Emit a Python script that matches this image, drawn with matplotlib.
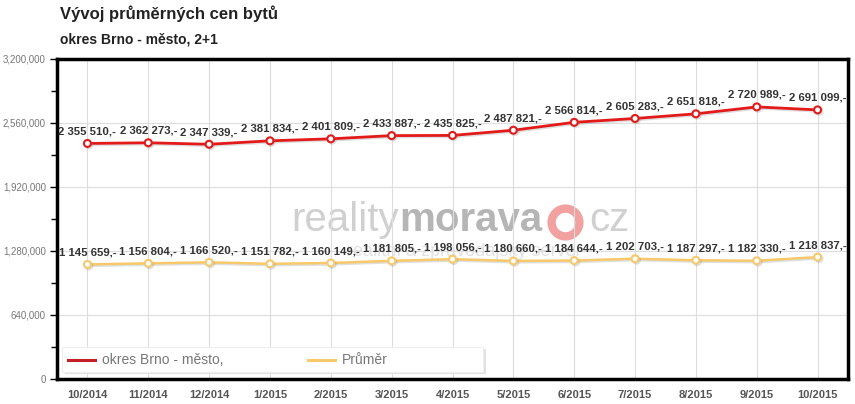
import matplotlib.pyplot as plt
import matplotlib.patheffects as pe
from matplotlib.patches import Rectangle
from matplotlib.lines import Line2D
from matplotlib.ticker import MultipleLocator, FuncFormatter

plt.rcParams["font.family"] = ["Liberation Sans", "DejaVu Sans"]

# data
months = ["10/2014", "11/2014", "12/2014", "1/2015", "2/2015", "3/2015", "4/2015",
          "5/2015", "6/2015", "7/2015", "8/2015", "9/2015", "10/2015"]
brno = [2355510, 2362273, 2347339, 2381834, 2401809, 2433887, 2435825,
        2487821, 2566814, 2605283, 2651818, 2720989, 2691099]
prumer = [1145659, 1156804, 1166520, 1151782, 1160149, 1181805, 1198056,
          1180660, 1184644, 1202703, 1187297, 1182330, 1218837]

RED = "#e31a1a"
YELLOW = "#f7c96a"
LABEL_COLOR = "#333333"


def fmt_price(v):
    return f"{v:,}".replace(",", " ") + ",-"


fig = plt.figure(figsize=(8.55, 4.04), dpi=100)
ax = fig.add_axes([57 / 855, 25 / 404, (848 - 57) / 855, (379 - 59) / 404])

x = list(range(len(months)))
shadow = [pe.SimpleLineShadow(offset=(1, -1), alpha=0.25, shadow_color="gray"), pe.Normal()]
ax.plot(x, prumer, color=YELLOW, lw=1.8, marker="o", ms=5, mfc="white", mec=YELLOW,
        mew=1.5, zorder=3, path_effects=shadow)
ax.plot(x, brno, color=RED, lw=2, marker="o", ms=5, mfc="white", mec=RED,
        mew=1.5, zorder=3, path_effects=shadow)

for series in (brno, prumer):
    for xi, v in zip(x, series):
        ax.annotate(fmt_price(v), (xi, v), xytext=(0, 5), textcoords="offset points",
                    ha="center", va="bottom", fontsize=8.2, fontweight="bold",
                    color=LABEL_COLOR, zorder=5)

ax.set_xlim(-0.5, len(months) - 0.5)
ax.set_ylim(0, 3200000)
ax.yaxis.set_major_locator(MultipleLocator(640000))
ax.yaxis.set_minor_locator(MultipleLocator(320000))
ax.yaxis.set_major_formatter(FuncFormatter(lambda v, p: f"{int(v):,}"))
ax.set_xticks(x)
ax.set_xticklabels(months, fontsize=8, fontweight="bold", color="#555555")
ax.tick_params(axis="x", length=0, pad=8)
ax.tick_params(axis="y", which="major", length=5, width=1, labelsize=7,
               labelcolor="#777777", pad=3)
ax.tick_params(axis="y", which="minor", length=4, width=1)

ax.grid(True, axis="y", which="major", color="#dddddd", lw=0.8, zorder=0)
ax.grid(True, axis="x", color="#dddddd", lw=0.8, zorder=0)
for s in ax.spines.values():
    s.set_linewidth(2.5)
    s.set_color("black")

# watermark
ax.text(5.12, 1590000, "reality", fontsize=29, color="#d0d0d0", ha="right",
        va="center", zorder=1)
ax.text(5.12, 1590000, "morava", fontsize=29, color="#b5b5b5", ha="left",
        va="center", fontweight="bold", zorder=1)
ax.plot([7.85], [1570000], marker="o", ms=20, mfc="none", mec="#f2a0a0", mew=6, zorder=1)
ax.text(8.25, 1590000, "cz", fontsize=29, color="#d0d0d0", ha="left",
        va="center", zorder=1)
ax.text(6.2, 1270000, "realitní a zpravodajský server", fontsize=13, color="#e2e2e2",
        ha="center", va="center", zorder=1)

# legend box
lx0, ly0, lw_, lh = 62 / 855, (404 - 372) / 404, (483 - 62) / 855, 25 / 404
fig.patches.append(Rectangle((lx0 + 0.003, ly0 - 0.006), lw_, lh, transform=fig.transFigure,
                             facecolor="#e2e2e2", edgecolor="none", zorder=4))
fig.patches.append(Rectangle((lx0, ly0), lw_, lh, transform=fig.transFigure,
                             facecolor="white", edgecolor="#eeeeee", lw=0.8, zorder=5))
ly = ly0 + lh / 2
fig.add_artist(Line2D([68 / 855, 95 / 855], [ly, ly], color="#c41f26", lw=2.2, zorder=6))
fig.text(102 / 855, ly, "okres Brno - město,", fontsize=10, color="#777777",
         va="center", ha="left", zorder=6)
fig.add_artist(Line2D([308 / 855, 335 / 855], [ly, ly], color=YELLOW, lw=2.2, zorder=6))
fig.text(342 / 855, ly, "Průměr", fontsize=10, color="#777777", va="center",
         ha="left", zorder=6)

fig.text(60 / 855, 1 - 14 / 404, "Vývoj průměrných cen bytů", fontsize=12,
         fontweight="bold", color="#222222", va="center", ha="left")
fig.text(60 / 855, 1 - 40 / 404, "okres Brno - město, 2+1", fontsize=10,
         fontweight="bold", color="#222222", va="center", ha="left")

fig.savefig("out.png", dpi=100)
